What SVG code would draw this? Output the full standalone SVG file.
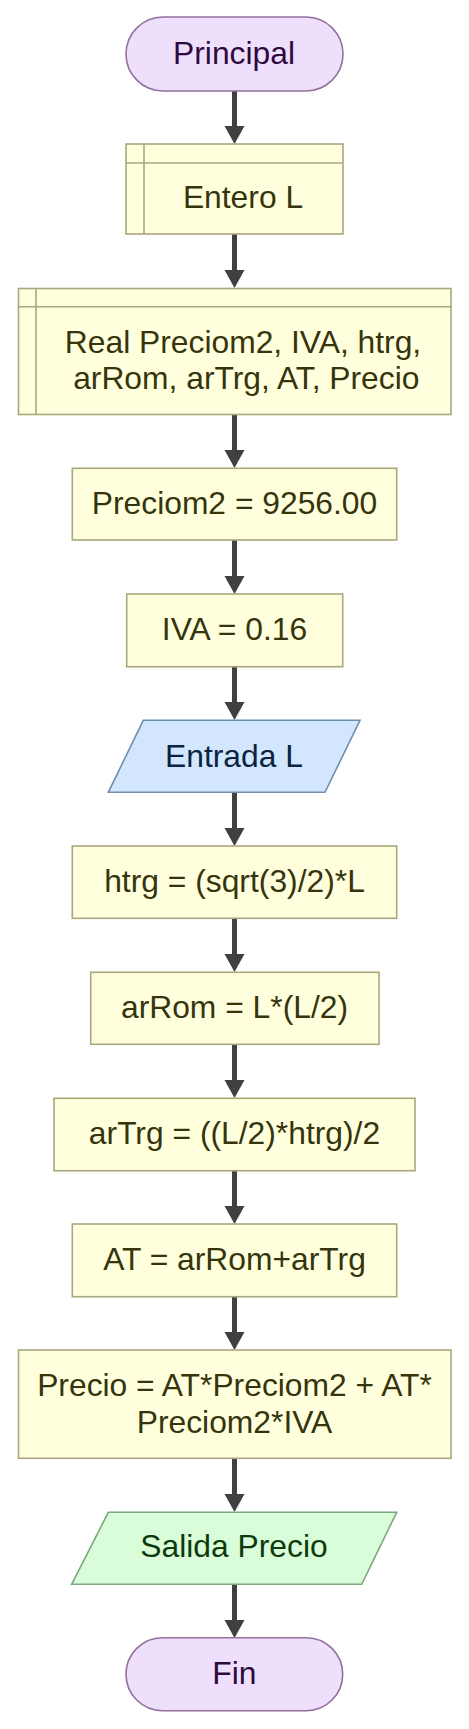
<svg xmlns="http://www.w3.org/2000/svg" width="469" height="1729" viewBox="0 0 469 1729">
<style>
text{font-family:"Liberation Sans",Arial,sans-serif;font-size:31.8px;text-anchor:middle}
.term{fill:#EEDFFC;stroke:#94709F;stroke-width:1.6}
.term-t{fill:#2E0A3E}
.proc{fill:#FFFFDD;stroke:#A8A87C;stroke-width:1.6}
.proc-l{stroke:#A8A87C;stroke-width:1.6;fill:none}
.proc-t{fill:#36340C}
.inp{fill:#D2E7FE;stroke:#6F8FAE;stroke-width:1.6}
.inp-t{fill:#0B2341}
.out{fill:#D9FDD9;stroke:#7DA77D;stroke-width:1.6}
.out-t{fill:#0D3A0D}
.edge{stroke:#404040;stroke-width:5;fill:none}
.head{fill:#404040}
</style>
<rect width="469" height="1729" fill="#FFFFFF"/>
<g id="connectors">
<line class="edge" x1="234.5" y1="91" x2="234.5" y2="128"/><polygon class="head" points="224.5,126 244.5,126 234.5,144"/>
<line class="edge" x1="234.5" y1="234" x2="234.5" y2="272"/><polygon class="head" points="224.5,270 244.5,270 234.5,288"/>
<line class="edge" x1="234.5" y1="414" x2="234.5" y2="452"/><polygon class="head" points="224.5,450 244.5,450 234.5,468"/>
<line class="edge" x1="234.5" y1="540" x2="234.5" y2="578"/><polygon class="head" points="224.5,576 244.5,576 234.5,594"/>
<line class="edge" x1="234.5" y1="667" x2="234.5" y2="704"/><polygon class="head" points="224.5,702 244.5,702 234.5,720"/>
<line class="edge" x1="234.5" y1="792" x2="234.5" y2="830"/><polygon class="head" points="224.5,828 244.5,828 234.5,846"/>
<line class="edge" x1="234.5" y1="918" x2="234.5" y2="956"/><polygon class="head" points="224.5,954 244.5,954 234.5,972"/>
<line class="edge" x1="234.5" y1="1044" x2="234.5" y2="1082"/><polygon class="head" points="224.5,1080 244.5,1080 234.5,1098"/>
<line class="edge" x1="234.5" y1="1170" x2="234.5" y2="1208"/><polygon class="head" points="224.5,1206 244.5,1206 234.5,1224"/>
<line class="edge" x1="234.5" y1="1296" x2="234.5" y2="1334"/><polygon class="head" points="224.5,1332 244.5,1332 234.5,1350"/>
<line class="edge" x1="234.5" y1="1458" x2="234.5" y2="1496"/><polygon class="head" points="224.5,1494 244.5,1494 234.5,1512"/>
<line class="edge" x1="234.5" y1="1584" x2="234.5" y2="1622"/><polygon class="head" points="224.5,1620 244.5,1620 234.5,1638"/>
</g>
<g id="n-principal">
<rect class="term" x="126" y="17" width="217" height="74" rx="37" ry="37"/>
<text class="term-t" x="234" y="64">Principal</text>
</g>
<g id="n-entero">
<rect class="proc" x="126" y="144" width="217" height="90"/>
<line class="proc-l" x1="144" y1="144" x2="144" y2="234"/>
<line class="proc-l" x1="126" y1="163" x2="343" y2="163"/>
<text class="proc-t" x="243" y="208">Entero L</text>
</g>
<g id="n-real">
<rect class="proc" x="18.5" y="288.5" width="432.5" height="126"/>
<line class="proc-l" x1="36" y1="288.5" x2="36" y2="414.5"/>
<line class="proc-l" x1="18.5" y1="306.7" x2="451" y2="306.7"/>
<text class="proc-t" x="243" y="353">Real Preciom2, IVA, htrg,</text>
<text class="proc-t" x="246.3" y="389">arRom, arTrg, AT, Precio</text>
</g>
<g id="n-preciom2">
<rect class="proc" x="72.3" y="468.3" width="324.4" height="71.7"/>
<text class="proc-t" x="234.5" y="514">Preciom2 = 9256.00</text>
</g>
<g id="n-iva">
<rect class="proc" x="126.7" y="594" width="216" height="72.7"/>
<text class="proc-t" x="234.5" y="640">IVA = 0.16</text>
</g>
<g id="n-entrada">
<polygon class="inp" points="143.3,720.3 360,720.3 325,792.3 108.3,792.3"/>
<text class="inp-t" x="234" y="766.5">Entrada L</text>
</g>
<g id="n-htrg">
<rect class="proc" x="72.3" y="846" width="324.4" height="72.3"/>
<text class="proc-t" x="234.5" y="892.3">htrg = (sqrt(3)/2)*L</text>
</g>
<g id="n-arrom">
<rect class="proc" x="90.7" y="972.3" width="288.3" height="72"/>
<text class="proc-t" x="234.5" y="1018.3">arRom = L*(L/2)</text>
</g>
<g id="n-artrg">
<rect class="proc" x="54" y="1098.3" width="361" height="72.4"/>
<text class="proc-t" x="234.5" y="1144.3">arTrg = ((L/2)*htrg)/2</text>
</g>
<g id="n-at">
<rect class="proc" x="72.3" y="1224" width="324.4" height="72.7"/>
<text class="proc-t" x="234.5" y="1270">AT = arRom+arTrg</text>
</g>
<g id="n-precio">
<rect class="proc" x="18.5" y="1350" width="432.5" height="108.3"/>
<text class="proc-t" x="234.5" y="1396">Precio = AT*Preciom2 + AT*</text>
<text class="proc-t" x="234.5" y="1432.7">Preciom2*IVA</text>
</g>
<g id="n-salida">
<polygon class="out" points="108.3,1512.3 396.7,1512.3 361.7,1584.3 71.7,1584.3"/>
<text class="out-t" x="234" y="1557.3">Salida Precio</text>
</g>
<g id="n-fin">
<rect class="term" x="126" y="1637.7" width="216.7" height="73" rx="36.5" ry="36.5"/>
<text class="term-t" x="234.3" y="1684">Fin</text>
</g>
</svg>
